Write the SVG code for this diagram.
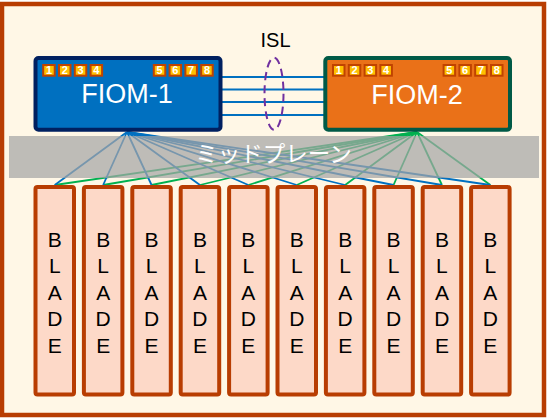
<svg xmlns="http://www.w3.org/2000/svg" width="547" height="418" viewBox="0 0 547 418">
<style>
.txt{font-family:"Liberation Sans",Arial,sans-serif}
.port{fill:#ffc000;stroke:#c04300;stroke-width:2}
.pnum{font-family:"Liberation Sans",Arial,sans-serif;font-size:11px;font-weight:bold;fill:#ffffff;text-anchor:middle}
.blade rect{fill:#fdd9c8;stroke:#b83d02;stroke-width:4}
.blade text{font-family:"Liberation Sans",Arial,sans-serif;font-size:21px;fill:#000000;text-anchor:middle}
.c1{stroke:#0070c0;stroke-width:1.8;fill:none}
.c2{stroke:#00b050;stroke-width:1.8;fill:none}
.isl{stroke:#0070c0;stroke-width:2.2}
</style>
<rect id="frame" x="2" y="4" width="542" height="411" fill="#fff7e6" stroke="#b83d02" stroke-width="4.5"/>

<g id="connectors">
  <g id="isl-links">
    <line class="isl" x1="222" y1="77" x2="324" y2="77"/>
    <line class="isl" x1="222" y1="89.5" x2="324" y2="89.5"/>
    <line class="isl" x1="222" y1="102" x2="324" y2="102"/>
    <line class="isl" x1="222" y1="115" x2="324" y2="115"/>
  </g>
  <g id="fiom2-links">
    <line class="c2" x1="417" y1="132" x2="54.75" y2="185"/>
    <line class="c2" x1="417" y1="132" x2="103.15" y2="185"/>
    <line class="c2" x1="417" y1="132" x2="151.55" y2="185"/>
    <line class="c2" x1="417" y1="132" x2="199.95" y2="185"/>
    <line class="c2" x1="417" y1="132" x2="248.35" y2="185"/>
    <line class="c2" x1="417" y1="132" x2="296.75" y2="185"/>
    <line class="c2" x1="417" y1="132" x2="345.15" y2="185"/>
    <line class="c2" x1="417" y1="132" x2="393.55" y2="185"/>
    <line class="c2" x1="417" y1="132" x2="441.95" y2="185"/>
    <line class="c2" x1="417" y1="132" x2="490.35" y2="185"/>
  </g>
  <g id="fiom1-links">
    <line class="c1" x1="127" y1="132" x2="54.75" y2="185"/>
    <line class="c1" x1="127" y1="132" x2="103.15" y2="185"/>
    <line class="c1" x1="127" y1="132" x2="151.55" y2="185"/>
    <line class="c1" x1="127" y1="132" x2="199.95" y2="185"/>
    <line class="c1" x1="127" y1="132" x2="248.35" y2="185"/>
    <line class="c1" x1="127" y1="132" x2="296.75" y2="185"/>
    <line class="c1" x1="127" y1="132" x2="345.15" y2="185"/>
    <line class="c1" x1="127" y1="132" x2="393.55" y2="185"/>
    <line class="c1" x1="127" y1="132" x2="441.95" y2="185"/>
    <line class="c1" x1="127" y1="132" x2="490.35" y2="185"/>
  </g>
</g>

<g id="isl">
  <ellipse cx="274" cy="93.7" rx="9.5" ry="36" fill="none" stroke="#7030a0" stroke-width="2" stroke-dasharray="8 5"/>
  <text class="txt" x="275.5" y="47.3" font-size="20" text-anchor="middle" fill="#000000">ISL</text>
</g>

<g id="midplane">
  <rect x="9" y="136" width="530" height="42" fill="#a5a5a5" fill-opacity="0.72"/>
  <text x="273.5" y="162" font-family="'Noto Sans CJK JP','Noto Sans CJK SC',sans-serif" font-size="22.5" fill="#ffffff" text-anchor="middle">ミッドプレーン</text>
</g>

<g id="fiom1">
  <rect x="35.5" y="58" width="185" height="71.7" rx="3" fill="#0070c0" stroke="#002060" stroke-width="4"/>
  <rect class="port" x="43.2" y="65" width="11.5" height="10.7"/><text class="pnum" x="48.95" y="74.4">1</text>
  <rect class="port" x="59" y="65" width="11.5" height="10.7"/><text class="pnum" x="64.75" y="74.4">2</text>
  <rect class="port" x="74.8" y="65" width="11.5" height="10.7"/><text class="pnum" x="80.55" y="74.4">3</text>
  <rect class="port" x="90.6" y="65" width="11.5" height="10.7"/><text class="pnum" x="96.35" y="74.4">4</text>
  <rect class="port" x="153.8" y="65" width="11.5" height="10.7"/><text class="pnum" x="159.55" y="74.4">5</text>
  <rect class="port" x="169.6" y="65" width="11.5" height="10.7"/><text class="pnum" x="175.35" y="74.4">6</text>
  <rect class="port" x="185.4" y="65" width="11.5" height="10.7"/><text class="pnum" x="191.15" y="74.4">7</text>
  <rect class="port" x="201.2" y="65" width="11.5" height="10.7"/><text class="pnum" x="206.95" y="74.4">8</text>
  <text class="txt" x="127" y="103" font-size="27" fill="#ffffff" text-anchor="middle">FIOM-1</text>
</g>

<g id="fiom2">
  <rect x="325.3" y="58" width="184.7" height="71.7" rx="3" fill="#ea7118" stroke="#005a46" stroke-width="4"/>
  <rect class="port" x="333" y="65" width="11.5" height="10.7"/><text class="pnum" x="338.75" y="74.4">1</text>
  <rect class="port" x="348.8" y="65" width="11.5" height="10.7"/><text class="pnum" x="354.55" y="74.4">2</text>
  <rect class="port" x="364.6" y="65" width="11.5" height="10.7"/><text class="pnum" x="370.35" y="74.4">3</text>
  <rect class="port" x="380.4" y="65" width="11.5" height="10.7"/><text class="pnum" x="386.15" y="74.4">4</text>
  <rect class="port" x="443.6" y="65" width="11.5" height="10.7"/><text class="pnum" x="449.35" y="74.4">5</text>
  <rect class="port" x="459.4" y="65" width="11.5" height="10.7"/><text class="pnum" x="465.15" y="74.4">6</text>
  <rect class="port" x="475.2" y="65" width="11.5" height="10.7"/><text class="pnum" x="480.95" y="74.4">7</text>
  <rect class="port" x="491" y="65" width="11.5" height="10.7"/><text class="pnum" x="496.75" y="74.4">8</text>
  <text class="txt" x="417" y="103.5" font-size="27" fill="#ffffff" text-anchor="middle">FIOM-2</text>
</g>

<g id="blade1" class="blade"><rect x="35.5" y="187" width="38.5" height="207.5" rx="2"/><text x="54.75" y="247">B</text><text x="54.75" y="273">L</text><text x="54.75" y="299.5">A</text><text x="54.75" y="326">D</text><text x="54.75" y="352.5">E</text></g>
<g id="blade2" class="blade"><rect x="83.9" y="187" width="38.5" height="207.5" rx="2"/><text x="103.15" y="247">B</text><text x="103.15" y="273">L</text><text x="103.15" y="299.5">A</text><text x="103.15" y="326">D</text><text x="103.15" y="352.5">E</text></g>
<g id="blade3" class="blade"><rect x="132.3" y="187" width="38.5" height="207.5" rx="2"/><text x="151.55" y="247">B</text><text x="151.55" y="273">L</text><text x="151.55" y="299.5">A</text><text x="151.55" y="326">D</text><text x="151.55" y="352.5">E</text></g>
<g id="blade4" class="blade"><rect x="180.7" y="187" width="38.5" height="207.5" rx="2"/><text x="199.95" y="247">B</text><text x="199.95" y="273">L</text><text x="199.95" y="299.5">A</text><text x="199.95" y="326">D</text><text x="199.95" y="352.5">E</text></g>
<g id="blade5" class="blade"><rect x="229.1" y="187" width="38.5" height="207.5" rx="2"/><text x="248.35" y="247">B</text><text x="248.35" y="273">L</text><text x="248.35" y="299.5">A</text><text x="248.35" y="326">D</text><text x="248.35" y="352.5">E</text></g>
<g id="blade6" class="blade"><rect x="277.5" y="187" width="38.5" height="207.5" rx="2"/><text x="296.75" y="247">B</text><text x="296.75" y="273">L</text><text x="296.75" y="299.5">A</text><text x="296.75" y="326">D</text><text x="296.75" y="352.5">E</text></g>
<g id="blade7" class="blade"><rect x="325.9" y="187" width="38.5" height="207.5" rx="2"/><text x="345.15" y="247">B</text><text x="345.15" y="273">L</text><text x="345.15" y="299.5">A</text><text x="345.15" y="326">D</text><text x="345.15" y="352.5">E</text></g>
<g id="blade8" class="blade"><rect x="374.3" y="187" width="38.5" height="207.5" rx="2"/><text x="393.55" y="247">B</text><text x="393.55" y="273">L</text><text x="393.55" y="299.5">A</text><text x="393.55" y="326">D</text><text x="393.55" y="352.5">E</text></g>
<g id="blade9" class="blade"><rect x="422.7" y="187" width="38.5" height="207.5" rx="2"/><text x="441.95" y="247">B</text><text x="441.95" y="273">L</text><text x="441.95" y="299.5">A</text><text x="441.95" y="326">D</text><text x="441.95" y="352.5">E</text></g>
<g id="blade10" class="blade"><rect x="471.1" y="187" width="38.5" height="207.5" rx="2"/><text x="490.35" y="247">B</text><text x="490.35" y="273">L</text><text x="490.35" y="299.5">A</text><text x="490.35" y="326">D</text><text x="490.35" y="352.5">E</text></g>
</svg>
